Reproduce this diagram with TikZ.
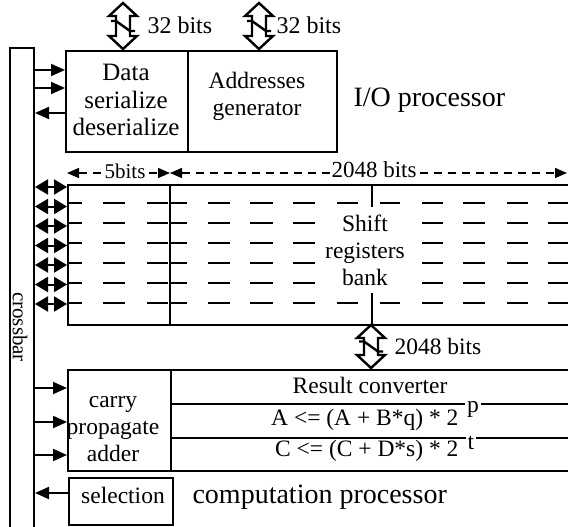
\documentclass[tikz,border=0pt]{standalone}
\usepackage{fontspec}
\setmainfont{Liberation Serif}
\usetikzlibrary{arrows.meta}
\newcommand{\busarrow}[3]{% cx, top, bottom
  \draw[busline,fill=white] (#1,#2) -- ++(14,13) -- ++(-7,0) -- ({#1+7},{#3-13}) -- ++(7,0) -- (#1,#3) -- ++(-14,-13) -- ++(7,0) -- ({#1-7},{#2+13}) -- ++(-7,0) -- cycle;
  \draw[busline] ({#1-12},{(#2+#3)/2-5}) -- ++(5,0) -- ++(14,10) -- ++(5,0);
}
\begin{document}
\begin{tikzpicture}[x=1pt,y=-1pt,
  ln/.style={line width=2pt},
  box/.style={draw,line width=2pt,inner sep=0pt,anchor=north west},
  busline/.style={line width=2.4pt,line join=miter},
  tipr/.style={line width=2pt,-{Triangle[length=14pt,width=12pt]}},
  tipd/.style={line width=2pt,{Triangle[length=13pt,width=15pt]}-{Triangle[length=13pt,width=15pt]}},
  dimarr/.style={line width=1.5pt,dash pattern=on 8pt off 6pt,{Triangle[length=12pt,width=10pt]}-{Triangle[length=12pt,width=10pt]}},
  dsh/.style={line width=2.6pt},
  lab/.style={font=\fontsize{23.5}{27}\selectfont,align=center},
  head/.style={font=\fontsize{28}{30}\selectfont},
]
\useasboundingbox (0,0) rectangle (568,527);

% crossbar
\node[box,minimum width=24pt,minimum height=490pt] (xbar) at (9,47) {};
\node[font=\fontsize{21}{23}\selectfont,rotate=-90] (xbartxt) at (20,327) {crossbar};

% I/O processor
\node[box,minimum width=122pt,minimum height=101pt] (data) at (65,50) {};
\node[lab,font=\fontsize{25}{27.5}\selectfont] (datatxt) at (126,100) {Data\\serialize\\deserialize};
\node[box,minimum width=149pt,minimum height=101pt] (addr) at (187,50) {};
\node[lab] (addrtxt) at (257,96) {Addresses\\generator};
\node[head,anchor=west] (iop) at (350,100) {I/O processor};

% buses above
\busarrow{123}{3}{49}
\busarrow{259}{3}{49}
\node[lab,font=\fontsize{24}{27}\selectfont,anchor=west] (b1) at (144,25) {32 bits};
\node[lab,font=\fontsize{24}{27}\selectfont,anchor=west] (b2) at (273,25) {32 bits};

% crossbar <-> data
\draw[tipr] (xbar.east |- {(0,70)}) -- (data.west |- {(0,70)});
\draw[tipr] (xbar.east |- {(0,88)}) -- (data.west |- {(0,88)});
\draw[tipr] (data.west |- {(0,113)}) -- (xbar.east |- {(0,113)});

% shift registers bank
\node[box,minimum width=510pt,minimum height=140pt] (srb) at (67,184) {};
\coordinate (divtop) at (170,184);
\coordinate (divbot) at (170,324);
\draw[ln] (divtop) -- (divbot);
\foreach \yy in {203,223,243,263,283,303}{
  \foreach \a/\b in {68/82,103/125,147/168,170/187,208/230,250/273,293/315,422/443,463/485,507/528,548/568}
    \draw[dsh] (\a,\yy) -- (\b,\yy);
}
\foreach \yy in {203,303}{
  \foreach \a/\b in {337/358,380/400}
    \draw[dsh] (\a,\yy) -- (\b,\yy);
}
\draw[ln] (372,184) -- (372,207);
\draw[ln] (372,293) -- (372,325);
\node[lab] (srbtxt) at (365,250) {Shift\\registers\\bank};

% dimensions
\coordinate (d0) at (67,173);
\coordinate (d1) at (170,173);
\coordinate (d2) at (567,173);
\draw[dimarr] (d0) -- (d1);
\draw[dimarr] (d1) -- (d2);
\node[font=\fontsize{21}{23}\selectfont,fill=white,inner sep=1pt] (fiveb) at (125,171) {5bits};
\node[font=\fontsize{23}{25}\selectfont,fill=white,inner sep=1pt] (twob) at (374,170) {2048 bits};

% crossbar <-> shift registers
\foreach \yy in {187,206.5,226,245.5,265,284.5,304}
  \draw[tipd] (xbar.east |- {(0,\yy)}) -- (srb.west |- {(0,\yy)});

% bus below
\busarrow{371}{325}{368}
\node[lab,anchor=west] (b3) at (391,346) {2048 bits};

% computation processor
\node[box,minimum width=103pt,minimum height=101pt] (cpa) at (67,369) {};
\node[lab] (cpatxt) at (113,429) {carry\\propagate\\adder};
\node[box,minimum width=405pt,minimum height=34pt] (rc) at (170,369) {};
\node[box,minimum width=405pt,minimum height=34pt] (arow) at (170,403) {};
\node[box,minimum width=405pt,minimum height=33pt] (crow) at (170,437) {};
\node[lab] (rctxt) at (370,385) {Result converter};
\node[lab,anchor=east] (atxt) at (462,420) {A <= (A + B*q) * 2};
\node[lab,anchor=east] (ctxt) at (462,451) {C <= (C + D*s) * 2};
\node[lab,fill=white,inner sep=2pt] (ptxt) at (473,409) {p};
\node[lab,fill=white,inner sep=2pt] (ttxt) at (471,443) {t};

\node[box,minimum width=104pt,minimum height=47pt] (sel) at (68,477) {};
\node[lab] (seltxt) at (123,495) {selection};
\node[head,anchor=west] (comp) at (189,497) {computation processor};

\draw[tipr] (xbar.east |- {(0,388)}) -- (cpa.west |- {(0,388)});
\draw[tipr] (xbar.east |- {(0,422)}) -- (cpa.west |- {(0,422)});
\draw[tipr] (xbar.east |- {(0,455)}) -- (cpa.west |- {(0,455)});
\draw[tipr] (sel.west |- {(0,493)}) -- (xbar.east |- {(0,493)});
\end{tikzpicture}
\end{document}
